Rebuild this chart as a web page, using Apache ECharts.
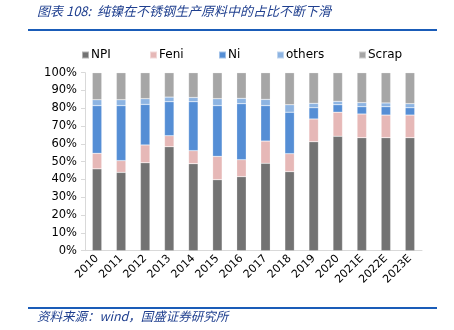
<!DOCTYPE html>
<html><head><meta charset="utf-8">
<script src="https://cdn.jsdelivr.net/npm/echarts@6/dist/echarts.min.js"></script>
<style>html,body{margin:0;padding:0;background:#fff}#wrap{position:relative;width:454px;height:330px}#c{width:454px;height:330px}
.rule{position:absolute;left:28px;width:409px;height:2px;background:#1a5cb8}</style>
</head><body><div id="wrap"><div id="c"></div><div class="rule" style="top:28.5px"></div><div class="rule" style="top:307px"></div></div>
<script>
const categories = ['2010','2011','2012','2013','2014','2015','2016','2017','2018','2019','2020','2021E','2022E','2023E'];
const npi    = [46.0, 44.0, 49.4, 58.4, 48.9, 39.9, 41.6, 49.1, 44.4, 61.2, 64.3, 63.5, 63.5, 63.5];
const feni   = [ 8.7,  6.6, 10.0,  6.2,  7.3, 13.1,  9.5, 12.5, 10.1, 12.8, 13.5, 13.3, 12.7, 12.7];
const ni     = [26.8, 30.9, 22.8, 19.1, 27.5, 28.5, 31.5, 19.9, 23.3,  6.3,  4.2,  4.1,  4.7,  4.1];
const others = [ 3.3,  3.3,  3.2,  2.6,  2.4,  3.9,  3.0,  3.5,  4.2,  2.5,  1.9,  2.3,  2.1,  2.3];
const scrap  = [15.2, 15.2, 14.6, 13.7, 13.9, 14.6, 14.4, 15.0, 18.0, 17.2, 16.1, 16.8, 17.0, 17.4];
const yTicks = [0,10,20,30,40,50,60,70,80,90,100];

const seriesDefs = [
  ['NPI', npi, '#737373'],
  ['Feni', feni, '#e6b8b7'],
  ['Ni', ni, '#558ed5'],
  ['others', others, '#8db4e2'],
  ['Scrap', scrap, '#a6a6a6']
];
const legendLeft = [76, 144, 213, 271, 353];
const font = 'DejaVu Sans';
const chart = echarts.init(document.getElementById('c'));
chart.setOption({
  animation: false,
  legend: seriesDefs.map((s, i) => ({
    data: [s[0]], left: legendLeft[i], top: 44, itemWidth: 7, itemHeight: 7, itemGap: 0,
    icon: 'rect', textStyle: {fontFamily: font, fontSize: 12, color: '#000', padding: [0,0,0,-3]}
  })),
  grid: {left: 85, right: 32, top: 72.7, bottom: 79.3, outerBoundsMode: 'none', containLabel: false},
  xAxis: {
    type: 'category', data: categories,
    axisLine: {lineStyle: {color: '#d9d9d9'}},
    axisTick: {lineStyle: {color: '#d9d9d9'}, length: 4},
    axisLabel: {rotate: 45, fontFamily: font, fontSize: 11, color: '#000', margin: 6, interval: 0}
  },
  yAxis: {
    type: 'value', min: 0, max: 100, interval: 10,
    axisLine: {show: true, lineStyle: {color: '#d9d9d9'}},
    axisTick: {show: true, lineStyle: {color: '#d9d9d9'}, length: 4},
    splitLine: {show: false},
    axisLabel: {formatter: v => yTicks.includes(v) ? v + '%' : '', fontFamily: font, fontSize: 11.5, color: '#000', margin: 8}
  },
  series: seriesDefs.map(s => ({
    name: s[0], type: 'bar', stack: 'all', data: s[1], barWidth: 9.5,
    itemStyle: {color: s[2], borderColor: 'rgba(255,255,255,0.45)', borderWidth: 0.5}
  })),
  graphic: {elements: [
    {type: 'text', left: 37, top: 5, z: 10, style: {text: '图表 108:  纯镍在不锈钢生产原料中的占比不断下滑', fontFamily: 'Noto Sans CJK SC', fontStyle: 'italic', fontSize: 13, fill: '#1f3f8f'}},
    {type: 'text', left: 37, top: 310, z: 10, style: {text: '资料来源：wind，国盛证券研究所', fontFamily: 'Noto Sans CJK SC', fontStyle: 'italic', fontSize: 12.5, fill: '#1f3f8f'}}
  ]}
});
</script></body></html>
